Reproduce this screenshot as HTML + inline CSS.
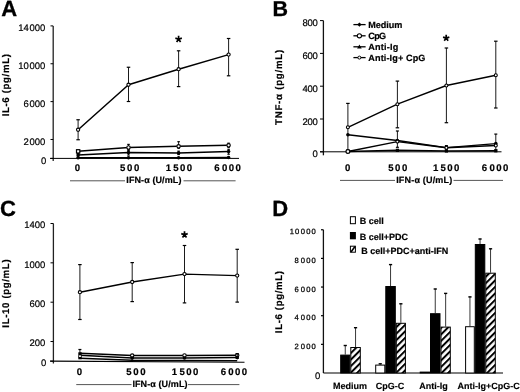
<!DOCTYPE html>
<html><head><meta charset="utf-8"><style>
html,body{margin:0;padding:0;background:#fff;}
svg{display:block;filter:grayscale(1);text-rendering:geometricPrecision;font-family:"Liberation Sans",sans-serif;fill:#000;}
</style></head><body>
<svg width="520" height="392" viewBox="0 0 520 392">
<rect width="520" height="392" fill="#fff"/>
<text x="1.2" y="16" font-size="22" font-weight="bold" text-anchor="start" letter-spacing="0" stroke="#000" stroke-width="0.3" >A</text>
<line x1="53.2" y1="25.9" x2="53.2" y2="161" stroke="#222" stroke-width="1.3"/>
<line x1="50" y1="158.4" x2="239" y2="158.4" stroke="#000" stroke-width="1"/>
<line x1="50.5" y1="25.9" x2="53.2" y2="25.9" stroke="#000" stroke-width="1"/>
<text x="45.4" y="30.9" font-size="9.5" text-anchor="end" stroke="#000" stroke-width="0.2">14<tspan dx="0.7">000</tspan></text>
<line x1="50.5" y1="63.76" x2="53.2" y2="63.76" stroke="#000" stroke-width="1"/>
<text x="45.4" y="68.76" font-size="9.5" text-anchor="end" stroke="#000" stroke-width="0.2">10<tspan dx="0.7">000</tspan></text>
<line x1="50.5" y1="101.61" x2="53.2" y2="101.61" stroke="#000" stroke-width="1"/>
<text x="45.4" y="106.61" font-size="9.5" text-anchor="end" stroke="#000" stroke-width="0.2">6<tspan dx="0.7">000</tspan></text>
<line x1="50.5" y1="139.47" x2="53.2" y2="139.47" stroke="#000" stroke-width="1"/>
<text x="45.4" y="144.97" font-size="9.5" text-anchor="end" stroke="#000" stroke-width="0.2">2<tspan dx="0.7">000</tspan></text>
<line x1="50.5" y1="158.4" x2="53.2" y2="158.4" stroke="#000" stroke-width="1"/>
<text x="46.4" y="164.1" font-size="9.5" font-weight="normal" text-anchor="end" letter-spacing="0" stroke="#000" stroke-width="0.2" >0</text>
<text x="78.1" y="170.9" font-size="9.6" font-weight="bold" text-anchor="middle" letter-spacing="1.6" stroke="#000" stroke-width="0.2">0</text>
<text x="130.45" y="170.9" font-size="9.6" font-weight="bold" text-anchor="middle" letter-spacing="1.6" stroke="#000" stroke-width="0.2">500</text>
<text x="179.6" y="170.9" font-size="9.6" font-weight="bold" text-anchor="middle" letter-spacing="1.4" stroke="#000" stroke-width="0.2">1<tspan dx="0.9">500</tspan></text>
<text x="228.3" y="170.9" font-size="9.6" font-weight="bold" text-anchor="middle" letter-spacing="1.4" stroke="#000" stroke-width="0.2">6<tspan dx="0.9">000</tspan></text>
<text x="126.3" y="183" font-size="9" font-weight="bold" text-anchor="start" letter-spacing="0.1" stroke="#000" stroke-width="0.2" >IFN-α (U/mL)</text>
<line x1="70" y1="180.8" x2="125" y2="180.8" stroke="#555" stroke-width="1"/>
<line x1="183.5" y1="180.8" x2="235.6" y2="180.8" stroke="#555" stroke-width="1"/>
<text x="8.9" y="84.9" font-size="9.7" font-weight="bold" text-anchor="middle" letter-spacing="0.62" stroke="#000" stroke-width="0.2" transform="rotate(-90 8.9 84.9)">IL-6 (pg/mL)</text>
<line x1="78.1" y1="119.75" x2="78.1" y2="139.75" stroke="#000" stroke-width="0.9"/>
<line x1="76.35" y1="119.75" x2="79.85" y2="119.75" stroke="#000" stroke-width="1.2"/>
<line x1="76.35" y1="139.75" x2="79.85" y2="139.75" stroke="#000" stroke-width="1.2"/>
<line x1="128.5" y1="67.25" x2="128.5" y2="101.5" stroke="#000" stroke-width="0.9"/>
<line x1="126.75" y1="67.25" x2="130.25" y2="67.25" stroke="#000" stroke-width="1.2"/>
<line x1="126.75" y1="101.5" x2="130.25" y2="101.5" stroke="#000" stroke-width="1.2"/>
<line x1="178.6" y1="50.8" x2="178.6" y2="86.6" stroke="#000" stroke-width="0.9"/>
<line x1="176.85" y1="50.8" x2="180.35" y2="50.8" stroke="#000" stroke-width="1.2"/>
<line x1="176.85" y1="86.6" x2="180.35" y2="86.6" stroke="#000" stroke-width="1.2"/>
<line x1="228.6" y1="38.5" x2="228.6" y2="75.8" stroke="#000" stroke-width="0.9"/>
<line x1="226.85" y1="38.5" x2="230.35" y2="38.5" stroke="#000" stroke-width="1.2"/>
<line x1="226.85" y1="75.8" x2="230.35" y2="75.8" stroke="#000" stroke-width="1.2"/>
<polyline fill="none" stroke="#000" stroke-width="1.5" stroke-linejoin="round" points="78.1,129.75 128.5,84.75 178.6,69.2 228.6,54.6"/>
<circle cx="78.1" cy="129.75" r="1.6" fill="#fff" stroke="#000" stroke-width="1.1"/>
<circle cx="128.5" cy="84.75" r="1.6" fill="#fff" stroke="#000" stroke-width="1.1"/>
<circle cx="178.6" cy="69.2" r="1.6" fill="#fff" stroke="#000" stroke-width="1.1"/>
<circle cx="228.6" cy="54.6" r="1.6" fill="#fff" stroke="#000" stroke-width="1.1"/>
<path d="M178.6,39.2L178.6,35.8M178.6,39.2L181.83,38.15M178.6,39.2L180.6,41.95M178.6,39.2L176.6,41.95M178.6,39.2L175.37,38.15" stroke="#000" stroke-width="1.7" stroke-linecap="butt" fill="none"/>
<line x1="78.1" y1="150" x2="78.1" y2="153.3" stroke="#000" stroke-width="0.9"/>
<line x1="76.85" y1="150" x2="79.35" y2="150" stroke="#000" stroke-width="1.2"/>
<line x1="76.85" y1="153.3" x2="79.35" y2="153.3" stroke="#000" stroke-width="1.2"/>
<line x1="128.5" y1="144.4" x2="128.5" y2="149.5" stroke="#000" stroke-width="0.9"/>
<line x1="127.25" y1="144.4" x2="129.75" y2="144.4" stroke="#000" stroke-width="1.2"/>
<line x1="127.25" y1="149.5" x2="129.75" y2="149.5" stroke="#000" stroke-width="1.2"/>
<line x1="178.6" y1="141.7" x2="178.6" y2="148.3" stroke="#000" stroke-width="0.9"/>
<line x1="177.35" y1="141.7" x2="179.85" y2="141.7" stroke="#000" stroke-width="1.2"/>
<line x1="177.35" y1="148.3" x2="179.85" y2="148.3" stroke="#000" stroke-width="1.2"/>
<line x1="228.6" y1="143.2" x2="228.6" y2="147.3" stroke="#000" stroke-width="0.9"/>
<line x1="227.35" y1="143.2" x2="229.85" y2="143.2" stroke="#000" stroke-width="1.2"/>
<line x1="227.35" y1="147.3" x2="229.85" y2="147.3" stroke="#000" stroke-width="1.2"/>
<line x1="78.1" y1="153.5" x2="78.1" y2="157" stroke="#000" stroke-width="0.9"/>
<line x1="76.85" y1="153.5" x2="79.35" y2="153.5" stroke="#000" stroke-width="1.2"/>
<line x1="76.85" y1="157" x2="79.35" y2="157" stroke="#000" stroke-width="1.2"/>
<line x1="128.5" y1="150.5" x2="128.5" y2="155" stroke="#000" stroke-width="0.9"/>
<line x1="127.25" y1="150.5" x2="129.75" y2="150.5" stroke="#000" stroke-width="1.2"/>
<line x1="127.25" y1="155" x2="129.75" y2="155" stroke="#000" stroke-width="1.2"/>
<line x1="178.6" y1="151.2" x2="178.6" y2="154.5" stroke="#000" stroke-width="0.9"/>
<line x1="177.35" y1="151.2" x2="179.85" y2="151.2" stroke="#000" stroke-width="1.2"/>
<line x1="177.35" y1="154.5" x2="179.85" y2="154.5" stroke="#000" stroke-width="1.2"/>
<line x1="228.6" y1="149.3" x2="228.6" y2="154.2" stroke="#000" stroke-width="0.9"/>
<line x1="227.35" y1="149.3" x2="229.85" y2="149.3" stroke="#000" stroke-width="1.2"/>
<line x1="227.35" y1="154.2" x2="229.85" y2="154.2" stroke="#000" stroke-width="1.2"/>
<polyline fill="none" stroke="#000" stroke-width="1.5" stroke-linejoin="round" points="78.1,151.3 128.5,147.5 178.6,146.3 228.6,145.3"/>
<polyline fill="none" stroke="#000" stroke-width="1.5" stroke-linejoin="round" points="78.1,155 128.5,152.5 178.6,153 228.6,151.5"/>
<polyline fill="none" stroke="#000" stroke-width="1.5" stroke-linejoin="round" points="78.1,157.7 128.5,157.7 178.6,157.8 228.6,157.5"/>
<rect x="76.5" y="149.7" width="3.3" height="3.3" fill="#fff" stroke="#000" stroke-width="1.2"/>
<circle cx="128.5" cy="147.5" r="1.7" fill="#fff" stroke="#000" stroke-width="1.1"/>
<circle cx="178.6" cy="146.3" r="1.7" fill="#fff" stroke="#000" stroke-width="1.1"/>
<circle cx="228.6" cy="145.3" r="1.7" fill="#fff" stroke="#000" stroke-width="1.1"/>
<circle cx="78.1" cy="155" r="1.8" fill="#000"/>
<circle cx="128.5" cy="152.5" r="1.8" fill="#000"/>
<circle cx="178.6" cy="153" r="1.8" fill="#000"/>
<circle cx="228.6" cy="151.5" r="1.8" fill="#000"/>
<circle cx="78.1" cy="157.7" r="1.8" fill="#000"/>
<circle cx="128.5" cy="157.7" r="1.8" fill="#000"/>
<circle cx="178.6" cy="157.8" r="1.8" fill="#000"/>
<circle cx="228.6" cy="157.5" r="1.8" fill="#000"/>
<text x="272.6" y="15.8" font-size="21.5" font-weight="bold" text-anchor="start" letter-spacing="0" stroke="#000" stroke-width="0.3" >B</text>
<line x1="323.4" y1="20.6" x2="323.4" y2="155.3" stroke="#111" stroke-width="1.3"/>
<line x1="320" y1="151.8" x2="501.5" y2="151.8" stroke="#000" stroke-width="1"/>
<line x1="320" y1="20.6" x2="323.4" y2="20.6" stroke="#000" stroke-width="1"/>
<text x="317.7" y="25.6" font-size="9.5" font-weight="normal" text-anchor="end" letter-spacing="-0.2" stroke="#000" stroke-width="0.2" >800</text>
<line x1="320" y1="53.4" x2="323.4" y2="53.4" stroke="#000" stroke-width="1"/>
<text x="317.7" y="59.1" font-size="9.5" font-weight="normal" text-anchor="end" letter-spacing="-0.2" stroke="#000" stroke-width="0.2" >600</text>
<line x1="320" y1="86.2" x2="323.4" y2="86.2" stroke="#000" stroke-width="1"/>
<text x="317.7" y="91.9" font-size="9.5" font-weight="normal" text-anchor="end" letter-spacing="-0.2" stroke="#000" stroke-width="0.2" >400</text>
<line x1="320" y1="119" x2="323.4" y2="119" stroke="#000" stroke-width="1"/>
<text x="317.7" y="124.7" font-size="9.5" font-weight="normal" text-anchor="end" letter-spacing="-0.2" stroke="#000" stroke-width="0.2" >200</text>
<line x1="320" y1="151.8" x2="323.4" y2="151.8" stroke="#000" stroke-width="1"/>
<text x="317.7" y="157" font-size="9.5" font-weight="normal" text-anchor="end" letter-spacing="-0.2" stroke="#000" stroke-width="0.2" >0</text>
<text x="348.5" y="170.7" font-size="9.6" font-weight="bold" text-anchor="middle" letter-spacing="1.6" stroke="#000" stroke-width="0.2">0</text>
<text x="398.6" y="170.7" font-size="9.6" font-weight="bold" text-anchor="middle" letter-spacing="1.6" stroke="#000" stroke-width="0.2">500</text>
<text x="446.9" y="170.7" font-size="9.6" font-weight="bold" text-anchor="middle" letter-spacing="1.4" stroke="#000" stroke-width="0.2">1<tspan dx="0.9">500</tspan></text>
<text x="495.8" y="170.7" font-size="9.6" font-weight="bold" text-anchor="middle" letter-spacing="1.4" stroke="#000" stroke-width="0.2">6<tspan dx="0.9">000</tspan></text>
<text x="396.2" y="182.7" font-size="9" font-weight="bold" text-anchor="start" letter-spacing="0.18" stroke="#000" stroke-width="0.2" >IFN-α (U/mL)</text>
<line x1="340" y1="180.4" x2="395" y2="180.4" stroke="#555" stroke-width="1"/>
<line x1="453.5" y1="180.4" x2="503" y2="180.4" stroke="#555" stroke-width="1"/>
<text x="281.8" y="87" font-size="9.7" font-weight="bold" text-anchor="middle" letter-spacing="0.75" stroke="#000" stroke-width="0.2" transform="rotate(-90 281.8 87)">TNF-α (pg/mL)</text>
<line x1="353.4" y1="24.6" x2="365.6" y2="24.6" stroke="#000" stroke-width="1.3"/>
<path d="M359.4,22.4L361.6,24.6L359.4,26.8L357.2,24.6Z" fill="#000"/>
<text x="368.3" y="28.2" font-size="9.1" font-weight="bold" text-anchor="start" letter-spacing="-0.05" stroke="#000" stroke-width="0.2" >Medium</text>
<line x1="353.4" y1="35.8" x2="365.6" y2="35.8" stroke="#000" stroke-width="1.3"/>
<circle cx="359.4" cy="35.8" r="2.1" fill="#fff" stroke="#000" stroke-width="1.1"/>
<text x="368.3" y="39.4" font-size="9.1" font-weight="bold" text-anchor="start" letter-spacing="-0.7" stroke="#000" stroke-width="0.2" >CpG</text>
<line x1="353.4" y1="46.8" x2="365.6" y2="46.8" stroke="#000" stroke-width="1.3"/>
<path d="M359.4,44.5L361.7,48.4L357.1,48.4Z" fill="#000"/>
<text x="368.3" y="50.4" font-size="9.1" font-weight="bold" text-anchor="start" letter-spacing="0.2" stroke="#000" stroke-width="0.2" >Anti-Ig</text>
<line x1="353.4" y1="57.6" x2="365.6" y2="57.6" stroke="#000" stroke-width="1.3"/>
<circle cx="359.4" cy="57.6" r="1.5" fill="#fff" stroke="#000" stroke-width="1"/>
<text x="368.3" y="61.2" font-size="9.1" font-weight="bold" text-anchor="start" letter-spacing="0.12" stroke="#000" stroke-width="0.2" >Anti-Ig+ CpG</text>
<line x1="347.9" y1="103.4" x2="347.9" y2="150" stroke="#000" stroke-width="0.9"/>
<line x1="346.15" y1="103.4" x2="349.65" y2="103.4" stroke="#000" stroke-width="1.2"/>
<line x1="346.15" y1="150" x2="349.65" y2="150" stroke="#000" stroke-width="1.2"/>
<line x1="397.4" y1="81.1" x2="397.4" y2="127.8" stroke="#000" stroke-width="0.9"/>
<line x1="395.65" y1="81.1" x2="399.15" y2="81.1" stroke="#000" stroke-width="1.2"/>
<line x1="395.65" y1="127.8" x2="399.15" y2="127.8" stroke="#000" stroke-width="1.2"/>
<line x1="446.4" y1="48" x2="446.4" y2="122.7" stroke="#000" stroke-width="0.9"/>
<line x1="444.65" y1="48" x2="448.15" y2="48" stroke="#000" stroke-width="1.2"/>
<line x1="444.65" y1="122.7" x2="448.15" y2="122.7" stroke="#000" stroke-width="1.2"/>
<line x1="495.8" y1="41.2" x2="495.8" y2="108" stroke="#000" stroke-width="0.9"/>
<line x1="494.05" y1="41.2" x2="497.55" y2="41.2" stroke="#000" stroke-width="1.2"/>
<line x1="494.05" y1="108" x2="497.55" y2="108" stroke="#000" stroke-width="1.2"/>
<polyline fill="none" stroke="#000" stroke-width="1.4" stroke-linejoin="round" points="347.9,127.3 397.4,104.2 446.4,85.5 495.8,75.3"/>
<circle cx="347.9" cy="127.3" r="1.5" fill="#fff" stroke="#000" stroke-width="1.1"/>
<circle cx="397.4" cy="104.2" r="1.5" fill="#fff" stroke="#000" stroke-width="1.1"/>
<circle cx="446.4" cy="85.5" r="1.5" fill="#fff" stroke="#000" stroke-width="1.1"/>
<circle cx="495.8" cy="75.3" r="1.5" fill="#fff" stroke="#000" stroke-width="1.1"/>
<path d="M446.2,38.1L446.2,34.8M446.2,38.1L449.34,37.08M446.2,38.1L448.14,40.77M446.2,38.1L444.26,40.77M446.2,38.1L443.06,37.08" stroke="#000" stroke-width="1.7" stroke-linecap="butt" fill="none"/>
<line x1="397.4" y1="131" x2="397.4" y2="147.3" stroke="#000" stroke-width="0.9"/>
<line x1="395.9" y1="131" x2="398.9" y2="131" stroke="#000" stroke-width="1.2"/>
<line x1="395.9" y1="147.3" x2="398.9" y2="147.3" stroke="#000" stroke-width="1.2"/>
<line x1="446.4" y1="145.6" x2="446.4" y2="150" stroke="#000" stroke-width="0.9"/>
<line x1="444.9" y1="145.6" x2="447.9" y2="145.6" stroke="#000" stroke-width="1.2"/>
<line x1="444.9" y1="150" x2="447.9" y2="150" stroke="#000" stroke-width="1.2"/>
<line x1="495.8" y1="134.1" x2="495.8" y2="150" stroke="#000" stroke-width="0.9"/>
<line x1="494.3" y1="134.1" x2="497.3" y2="134.1" stroke="#000" stroke-width="1.2"/>
<line x1="494.3" y1="150" x2="497.3" y2="150" stroke="#000" stroke-width="1.2"/>
<polyline fill="none" stroke="#000" stroke-width="1.4" stroke-linejoin="round" points="347.9,134.7 397.4,140.5 446.4,147.6 495.8,143.6"/>
<polyline fill="none" stroke="#000" stroke-width="1.4" stroke-linejoin="round" points="347.9,151.5 397.4,141.6 446.4,147.8 495.8,145.5"/>
<polyline fill="none" stroke="#000" stroke-width="1.4" stroke-linejoin="round" points="347.9,151.5 397.4,150.3 446.4,151 495.8,150.8"/>
<circle cx="347.9" cy="134.7" r="1.8" fill="#000"/>
<circle cx="397.4" cy="140.5" r="1.8" fill="#000"/>
<circle cx="446.4" cy="147.6" r="1.8" fill="#000"/>
<circle cx="495.8" cy="143.6" r="1.8" fill="#000"/>
<circle cx="397.4" cy="141.6" r="1.5" fill="#fff" stroke="#000" stroke-width="1.1"/>
<circle cx="446.4" cy="147.8" r="1.5" fill="#fff" stroke="#000" stroke-width="1.1"/>
<circle cx="495.8" cy="145.5" r="1.5" fill="#fff" stroke="#000" stroke-width="1.1"/>
<circle cx="347.9" cy="151.5" r="1.9" fill="#fff" stroke="#000" stroke-width="1.2"/>
<rect x="395.8" y="148.7" width="3.2" height="3.2" fill="#000"/>
<rect x="444.8" y="149.4" width="3.2" height="3.2" fill="#000"/>
<rect x="494.2" y="149.2" width="3.2" height="3.2" fill="#000"/>
<text x="0" y="216" font-size="22" font-weight="bold" text-anchor="start" letter-spacing="0" stroke="#000" stroke-width="0.3" >C</text>
<line x1="53.4" y1="223.5" x2="53.4" y2="363.5" stroke="#222" stroke-width="1.3"/>
<line x1="50" y1="361.1" x2="244.5" y2="362.2" stroke="#000" stroke-width="1.1"/>
<line x1="50.5" y1="223.5" x2="53.4" y2="223.5" stroke="#000" stroke-width="1"/>
<text x="45.4" y="228" font-size="9.5" font-weight="normal" text-anchor="end" letter-spacing="0" stroke="#000" stroke-width="0.2" >1400</text>
<line x1="50.5" y1="262.84" x2="53.4" y2="262.84" stroke="#000" stroke-width="1"/>
<text x="45.4" y="267.84" font-size="9.5" font-weight="normal" text-anchor="end" letter-spacing="0" stroke="#000" stroke-width="0.2" >1000</text>
<line x1="50.5" y1="302.19" x2="53.4" y2="302.19" stroke="#000" stroke-width="1"/>
<text x="45.4" y="307.19" font-size="9.5" font-weight="normal" text-anchor="end" letter-spacing="0" stroke="#000" stroke-width="0.2" >600</text>
<line x1="50.5" y1="341.53" x2="53.4" y2="341.53" stroke="#000" stroke-width="1"/>
<text x="45.4" y="345.93" font-size="9.5" font-weight="normal" text-anchor="end" letter-spacing="0" stroke="#000" stroke-width="0.2" >200</text>
<line x1="50.5" y1="361.2" x2="53.4" y2="361.2" stroke="#000" stroke-width="1"/>
<text x="46.4" y="366.2" font-size="9.5" font-weight="normal" text-anchor="end" letter-spacing="0" stroke="#000" stroke-width="0.2" >0</text>
<text x="80.3" y="374.6" font-size="9.6" font-weight="bold" text-anchor="middle" letter-spacing="1.6" stroke="#000" stroke-width="0.2">0</text>
<text x="136.7" y="374.6" font-size="9.6" font-weight="bold" text-anchor="middle" letter-spacing="1.6" stroke="#000" stroke-width="0.2">500</text>
<text x="185.75" y="374.6" font-size="9.6" font-weight="bold" text-anchor="middle" letter-spacing="1.4" stroke="#000" stroke-width="0.2">1<tspan dx="0.9">500</tspan></text>
<text x="234.6" y="374.6" font-size="9.6" font-weight="bold" text-anchor="middle" letter-spacing="1.4" stroke="#000" stroke-width="0.2">6<tspan dx="0.9">000</tspan></text>
<text x="132.4" y="386.7" font-size="9" font-weight="bold" text-anchor="start" letter-spacing="0.1" stroke="#000" stroke-width="0.2" >IFN-α (U/mL)</text>
<line x1="76.25" y1="384.6" x2="131.5" y2="384.6" stroke="#555" stroke-width="1"/>
<line x1="188" y1="384.6" x2="239.4" y2="384.6" stroke="#555" stroke-width="1"/>
<text x="8.9" y="293.2" font-size="9.7" font-weight="bold" text-anchor="middle" letter-spacing="0.62" stroke="#000" stroke-width="0.2" transform="rotate(-90 8.9 293.2)">IL-10 (pg/mL)</text>
<line x1="79.9" y1="264.6" x2="79.9" y2="319.5" stroke="#000" stroke-width="0.9"/>
<line x1="78.15" y1="264.6" x2="81.65" y2="264.6" stroke="#000" stroke-width="1.2"/>
<line x1="78.15" y1="319.5" x2="81.65" y2="319.5" stroke="#000" stroke-width="1.2"/>
<line x1="132.2" y1="262.6" x2="132.2" y2="301.6" stroke="#000" stroke-width="0.9"/>
<line x1="130.45" y1="262.6" x2="133.95" y2="262.6" stroke="#000" stroke-width="1.2"/>
<line x1="130.45" y1="301.6" x2="133.95" y2="301.6" stroke="#000" stroke-width="1.2"/>
<line x1="184.5" y1="245.5" x2="184.5" y2="302.9" stroke="#000" stroke-width="0.9"/>
<line x1="182.75" y1="245.5" x2="186.25" y2="245.5" stroke="#000" stroke-width="1.2"/>
<line x1="182.75" y1="302.9" x2="186.25" y2="302.9" stroke="#000" stroke-width="1.2"/>
<line x1="237.2" y1="249.3" x2="237.2" y2="302.1" stroke="#000" stroke-width="0.9"/>
<line x1="235.45" y1="249.3" x2="238.95" y2="249.3" stroke="#000" stroke-width="1.2"/>
<line x1="235.45" y1="302.1" x2="238.95" y2="302.1" stroke="#000" stroke-width="1.2"/>
<polyline fill="none" stroke="#000" stroke-width="1.4" stroke-linejoin="round" points="79.9,292.2 132.2,282 184.5,274.1 237.2,275.6"/>
<circle cx="79.9" cy="292.2" r="1.6" fill="#fff" stroke="#000" stroke-width="1.1"/>
<circle cx="132.2" cy="282" r="1.6" fill="#fff" stroke="#000" stroke-width="1.1"/>
<circle cx="184.5" cy="274.1" r="1.6" fill="#fff" stroke="#000" stroke-width="1.1"/>
<circle cx="237.2" cy="275.6" r="1.6" fill="#fff" stroke="#000" stroke-width="1.1"/>
<path d="M184.5,234.7L184.5,231.3M184.5,234.7L187.73,233.65M184.5,234.7L186.5,237.45M184.5,234.7L182.5,237.45M184.5,234.7L181.27,233.65" stroke="#000" stroke-width="1.7" stroke-linecap="butt" fill="none"/>
<line x1="79.9" y1="349.5" x2="79.9" y2="357" stroke="#000" stroke-width="0.9"/>
<line x1="78.4" y1="349.5" x2="81.4" y2="349.5" stroke="#000" stroke-width="1.2"/>
<line x1="78.4" y1="357" x2="81.4" y2="357" stroke="#000" stroke-width="1.2"/>
<polyline fill="none" stroke="#000" stroke-width="1.5" stroke-linejoin="round" points="79.9,353.2 132.2,355.6 184.5,355.5 237.2,355.3"/>
<polyline fill="none" stroke="#000" stroke-width="1.5" stroke-linejoin="round" points="79.9,355.2 132.2,358.1 184.5,358 237.2,357.6"/>
<polyline fill="none" stroke="#000" stroke-width="1.5" stroke-linejoin="round" points="79.9,358.3 132.2,360.3 184.5,360.6 237.2,360.8"/>
<rect x="78.3" y="352.3" width="3.4" height="7" fill="#000"/>
<rect x="78.9" y="355.4" width="2.2" height="1.5" fill="#fff"/>
<circle cx="132.2" cy="355.6" r="1.7" fill="#fff" stroke="#000" stroke-width="1.1"/>
<circle cx="184.5" cy="355.5" r="1.7" fill="#fff" stroke="#000" stroke-width="1.1"/>
<circle cx="237.2" cy="355.3" r="1.7" fill="#fff" stroke="#000" stroke-width="1.1"/>
<circle cx="132.2" cy="358.1" r="1.8" fill="#000"/>
<circle cx="184.5" cy="358" r="1.8" fill="#000"/>
<circle cx="237.2" cy="357.6" r="1.8" fill="#000"/>
<line x1="237.2" y1="353.6" x2="237.2" y2="358.3" stroke="#000" stroke-width="0.9"/>
<line x1="235.7" y1="353.6" x2="238.7" y2="353.6" stroke="#000" stroke-width="1.2"/>
<line x1="235.7" y1="358.3" x2="238.7" y2="358.3" stroke="#000" stroke-width="1.2"/>
<text x="272.3" y="216.2" font-size="22" font-weight="bold" text-anchor="start" letter-spacing="0" stroke="#000" stroke-width="0.3" >D</text>
<line x1="323.4" y1="229.75" x2="323.4" y2="373" stroke="#111" stroke-width="1.3"/>
<line x1="323.4" y1="373" x2="503" y2="373" stroke="#000" stroke-width="1.1"/>
<line x1="321" y1="229.75" x2="323.4" y2="229.75" stroke="#000" stroke-width="1.2"/>
<text x="316.8" y="234.25" font-size="7.6" text-anchor="end" letter-spacing="1.1" stroke="#000" stroke-width="0.25">10<tspan dx="0.4">000</tspan></text>
<line x1="321" y1="258.4" x2="323.4" y2="258.4" stroke="#000" stroke-width="1.2"/>
<text x="316.8" y="262.9" font-size="7.6" text-anchor="end" letter-spacing="1.1" stroke="#000" stroke-width="0.25">8<tspan dx="0.9">000</tspan></text>
<line x1="321" y1="287.05" x2="323.4" y2="287.05" stroke="#000" stroke-width="1.2"/>
<text x="316.8" y="291.55" font-size="7.6" text-anchor="end" letter-spacing="1.1" stroke="#000" stroke-width="0.25">6<tspan dx="0.9">000</tspan></text>
<line x1="321" y1="315.7" x2="323.4" y2="315.7" stroke="#000" stroke-width="1.2"/>
<text x="316.8" y="320.2" font-size="7.6" text-anchor="end" letter-spacing="1.1" stroke="#000" stroke-width="0.25">4<tspan dx="0.9">000</tspan></text>
<line x1="321" y1="344.35" x2="323.4" y2="344.35" stroke="#000" stroke-width="1.2"/>
<text x="316.8" y="348.85" font-size="7.6" text-anchor="end" letter-spacing="1.1" stroke="#000" stroke-width="0.25">2<tspan dx="0.9">000</tspan></text>
<text x="320.3" y="379.2" font-size="9.5" font-weight="normal" text-anchor="end" letter-spacing="0" stroke="#000" stroke-width="0.2" >0</text>
<text x="282.2" y="301.7" font-size="9.7" font-weight="bold" text-anchor="middle" letter-spacing="0.62" stroke="#000" stroke-width="0.2" transform="rotate(-90 282.2 301.7)">IL-6 (pg/mL)</text>
<defs><pattern id="h" patternUnits="userSpaceOnUse" width="4.6" height="4.6" patternTransform="rotate(45)"><rect width="4.6" height="4.6" fill="#fff"/><rect width="2" height="4.6" fill="#000"/></pattern></defs>
<line x1="345.25" y1="345.2" x2="345.25" y2="354.6" stroke="#222" stroke-width="0.9"/>
<line x1="343.65" y1="345.5" x2="346.85" y2="345.5" stroke="#000" stroke-width="1.4"/>
<rect x="340.7" y="355.1" width="9.1" height="17.9" fill="#000" stroke="#000" stroke-width="1"/>
<line x1="355.55" y1="327.4" x2="355.55" y2="347" stroke="#222" stroke-width="0.9"/>
<line x1="353.95" y1="327.7" x2="357.15" y2="327.7" stroke="#000" stroke-width="1.4"/>
<rect x="350.8" y="347.5" width="9.5" height="25.5" fill="url(#h)" stroke="#000" stroke-width="1"/>
<line x1="380.25" y1="363.5" x2="380.25" y2="364.6" stroke="#222" stroke-width="0.9"/>
<line x1="378.65" y1="363.8" x2="381.85" y2="363.8" stroke="#000" stroke-width="1.4"/>
<rect x="375.7" y="365.1" width="9.1" height="7.9" fill="#fff" stroke="#000" stroke-width="1"/>
<line x1="390.55" y1="264.3" x2="390.55" y2="286" stroke="#222" stroke-width="0.9"/>
<line x1="388.95" y1="264.6" x2="392.15" y2="264.6" stroke="#000" stroke-width="1.4"/>
<rect x="385.8" y="286.5" width="9.5" height="86.5" fill="#000" stroke="#000" stroke-width="1"/>
<line x1="400.85" y1="303.5" x2="400.85" y2="322.8" stroke="#222" stroke-width="0.9"/>
<line x1="399.25" y1="303.8" x2="402.45" y2="303.8" stroke="#000" stroke-width="1.4"/>
<rect x="396.3" y="323.3" width="9.1" height="49.7" fill="url(#h)" stroke="#000" stroke-width="1"/>
<rect x="420.2" y="372.1" width="9.3" height="0.9" fill="#fff" stroke="#000" stroke-width="1"/>
<line x1="435.25" y1="288.7" x2="435.25" y2="313.2" stroke="#222" stroke-width="0.9"/>
<line x1="433.65" y1="289" x2="436.85" y2="289" stroke="#000" stroke-width="1.4"/>
<rect x="430.5" y="313.7" width="9.5" height="59.3" fill="#000" stroke="#000" stroke-width="1"/>
<line x1="445.65" y1="293.1" x2="445.65" y2="326.6" stroke="#222" stroke-width="0.9"/>
<line x1="444.05" y1="293.4" x2="447.25" y2="293.4" stroke="#000" stroke-width="1.4"/>
<rect x="441" y="327.1" width="9.3" height="45.9" fill="url(#h)" stroke="#000" stroke-width="1"/>
<line x1="469.95" y1="296.6" x2="469.95" y2="326.2" stroke="#222" stroke-width="0.9"/>
<line x1="468.35" y1="296.9" x2="471.55" y2="296.9" stroke="#000" stroke-width="1.4"/>
<rect x="465.6" y="326.7" width="8.7" height="46.3" fill="#fff" stroke="#000" stroke-width="1"/>
<line x1="480.05" y1="238.7" x2="480.05" y2="244" stroke="#222" stroke-width="0.9"/>
<line x1="478.45" y1="239" x2="481.65" y2="239" stroke="#000" stroke-width="1.4"/>
<rect x="475.3" y="244.5" width="9.5" height="128.5" fill="#000" stroke="#000" stroke-width="1"/>
<line x1="490.55" y1="248.5" x2="490.55" y2="272.7" stroke="#222" stroke-width="0.9"/>
<line x1="488.95" y1="248.8" x2="492.15" y2="248.8" stroke="#000" stroke-width="1.4"/>
<rect x="485.8" y="273.2" width="9.5" height="99.8" fill="url(#h)" stroke="#000" stroke-width="1"/>
<text x="332.9" y="389.3" font-size="9" font-weight="bold" text-anchor="start" letter-spacing="0" stroke="#000" stroke-width="0.15" >Medium</text>
<text x="375.7" y="389.3" font-size="9" font-weight="bold" text-anchor="start" letter-spacing="0" stroke="#000" stroke-width="0.15" >CpG-C</text>
<text x="419.2" y="389.3" font-size="9" font-weight="bold" text-anchor="start" letter-spacing="0" stroke="#000" stroke-width="0.15" >Anti-Ig</text>
<text x="457.4" y="389.3" font-size="9" font-weight="bold" text-anchor="start" letter-spacing="0" stroke="#000" stroke-width="0.15" >Anti-Ig+CpG-C</text>
<rect x="350.4" y="216.7" width="5" height="7" fill="#fff" stroke="#000" stroke-width="1"/>
<rect x="349.9" y="232" width="6" height="7.3" fill="#000"/>
<rect x="350.4" y="246.2" width="5" height="6" fill="#fff" stroke="#000" stroke-width="1"/>
<path d="M351,252 L355,246.6" stroke="#000" stroke-width="1.6"/>
<text x="359.8" y="224.3" font-size="9" font-weight="bold" text-anchor="start" letter-spacing="0" stroke="#000" stroke-width="0.2" >B cell</text>
<text x="359.8" y="240.1" font-size="9" font-weight="bold" text-anchor="start" letter-spacing="0" stroke="#000" stroke-width="0.2" >B cell+PDC</text>
<text x="361.2" y="253.9" font-size="9" font-weight="bold" text-anchor="start" letter-spacing="0.0" stroke="#000" stroke-width="0.2" >B cell+PDC+anti-IFN</text>
</svg></body></html>
